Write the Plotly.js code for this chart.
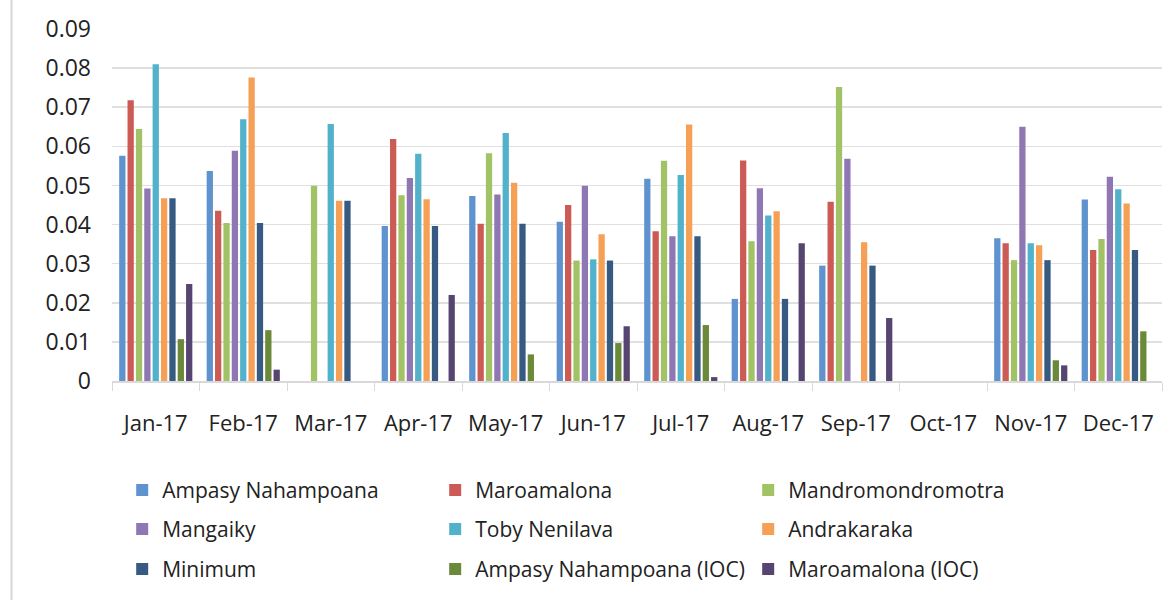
<!DOCTYPE html>
<html>
<head>
<meta charset="utf-8">
<script src="https://cdn.plot.ly/plotly-3.0.1.min.js"></script>
<style>html,body{margin:0;padding:0;background:#fff;}#chart{width:1176px;height:600px;}</style>
</head>
<body>
<div id="chart"></div>
<script>
const months = ["Jan-17","Feb-17","Mar-17","Apr-17","May-17","Jun-17","Jul-17","Aug-17","Sep-17","Oct-17","Nov-17","Dec-17"];

const ampasyNahampoana = [0.0576,0.0537,null,0.0396,0.0473,0.0407,0.0517,0.0210,0.0295,null,0.0365,0.0464];
const maroamalona      = [0.0718,0.0435,null,0.0619,0.0402,0.0450,0.0383,0.0564,0.0458,null,0.0352,0.0335];
const mandromondromotra= [0.0644,0.0404,0.0499,0.0475,0.0582,0.0308,0.0563,0.0357,0.0752,null,0.0309,0.0363];
const mangaiky         = [0.0492,0.0589,null,0.0519,0.0477,0.0499,0.0370,0.0493,0.0568,null,0.0650,0.0522];
const tobyNenilava     = [0.0810,0.0669,0.0657,0.0581,0.0634,0.0311,0.0527,0.0423,null,null,0.0352,0.0490];
const andrakaraka      = [0.0467,0.0776,0.0461,0.0465,0.0507,0.0375,0.0656,0.0434,0.0355,null,0.0347,0.0454];
const minimum          = [0.0467,0.0404,0.0461,0.0396,0.0402,0.0308,0.0370,0.0210,0.0295,null,0.0309,0.0335];
const ampasyIOC        = [0.0107,0.0130,null,null,0.0068,0.0097,0.0143,null,null,null,0.0053,0.0127];
const maroamalonaIOC   = [0.0248,0.0029,null,0.0220,null,0.0140,0.0010,0.0352,0.0161,null,0.0040,null];

const seriesNames = ["Ampasy Nahampoana","Maroamalona","Mandromondromotra","Mangaiky","Toby Nenilava","Andrakaraka","Minimum","Ampasy Nahampoana (IOC)","Maroamalona (IOC)"];
const seriesValues = [ampasyNahampoana,maroamalona,mandromondromotra,mangaiky,tobyNenilava,andrakaraka,minimum,ampasyIOC,maroamalonaIOC];
const colors = ["#5f93cf","#cc5b55","#a2c266","#8f77b3","#52b2cc","#f5a055","#365a82","#6a8a3a","#574571"];
const legendIds = ["legend","legend","legend","legend2","legend2","legend2","legend3","legend3","legend3"];

const traces = seriesNames.map((n,i)=>({
  type:"bar", name:n, x:months, y:seriesValues[i],
  marker:{color:colors[i]}, legend:legendIds[i], hoverinfo:"x+y+name"
}));

const legFont = {family:"Open Sans, sans-serif", size:21, color:"#222"};
function leg(y){
  return {orientation:"h", x:0.0097, xanchor:"left", y:y, yanchor:"middle",
    entrywidth:268, entrywidthmode:"pixels", font:legFont, bgcolor:"rgba(0,0,0,0)",
    traceorder:"normal", itemclick:false};
}

const layout = {
  width:1176, height:600,
  margin:{l:112, r:14, t:29, b:218.5, autoexpand:false},
  paper_bgcolor:"#fff", plot_bgcolor:"#fff",
  barmode:"group", bargap:0.14, bargroupgap:0.25,
  font:{family:"Open Sans, sans-serif", size:21, color:"#222"},
  xaxis:{type:"category", showline:true, linecolor:"#d9d9d9", linewidth:1.5,
    ticks:"outside", tickson:"boundaries", ticklen:8, tickcolor:"#d9d9d9",
    showgrid:false, ticklabelstandoff:22, tickfont:{size:22, color:"#222"}},
  yaxis:{range:[0,0.09], dtick:0.01, tick0:0, showgrid:true, gridcolor:"#e0e0e0", gridwidth:1.5,
    zeroline:false, ticks:"", ticklabelstandoff:20, tickfont:{size:23, color:"#222"}, showline:false},
  legend:leg(-0.3106),
  legend2:leg(-0.4213),
  legend3:leg(-0.5348),
  shapes:[{type:"line", xref:"paper", yref:"paper", x0:-0.0957, x1:-0.0957, y0:-1, y1:2,
    line:{color:"#d6d6d6", width:2}}],
  showlegend:true
};

Plotly.newPlot("chart", traces, layout, {displayModeBar:false, staticPlot:true});
</script>
</body>
</html>
